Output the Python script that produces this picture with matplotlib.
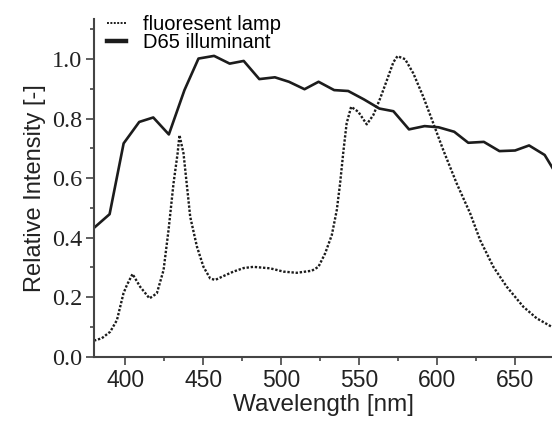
import matplotlib
matplotlib.use("Agg")
import matplotlib.pyplot as plt
from matplotlib.ticker import MultipleLocator, FormatStrFormatter

# D65 illuminant (solid)
d65_nm = [380, 390, 399, 409, 418, 428, 438, 447, 457, 467, 476, 486, 496, 505,
          515, 524, 534, 543, 553, 563, 572, 582, 592, 601, 611, 620, 630, 640,
          650, 659, 669, 678]
d65_val = [0.433, 0.479, 0.717, 0.789, 0.804, 0.747, 0.896, 1.002, 1.011, 0.985,
           0.994, 0.933, 0.939, 0.924, 0.899, 0.924, 0.896, 0.893, 0.865, 0.834,
           0.825, 0.764, 0.775, 0.771, 0.756, 0.719, 0.722, 0.691, 0.693, 0.710,
           0.678, 0.600]

# fluorescent lamp (dotted)
lamp_nm = [380, 385, 390.4, 394.7, 398.9, 401.1, 404.7, 409.6, 415.6, 420.3, 424.6,
           427.8, 431.0, 433.6, 434.8, 437.4, 441.7, 446.0, 450.2, 454.5, 457.7,
           463.0, 469.4, 476.0, 482.2, 493.0, 501.5, 510.0, 519.7, 523.9, 528.2,
           532.5, 535.7, 537.8, 540.0, 542.0, 544.9, 549.5, 554.9, 559.1, 563.5,
           567.8, 572.0, 574.6, 579.5, 584.8, 591.2, 597.6, 604.0, 612.6, 621.2,
           627.6, 636.1, 644.7, 655.3, 663.9, 673.7]
lamp_val = [0.054, 0.062, 0.084, 0.123, 0.213, 0.241, 0.278, 0.235, 0.196, 0.213,
            0.291, 0.426, 0.583, 0.683, 0.745, 0.683, 0.470, 0.370, 0.302, 0.263,
            0.258, 0.271, 0.286, 0.298, 0.302, 0.297, 0.286, 0.282, 0.289, 0.302,
            0.347, 0.409, 0.493, 0.582, 0.694, 0.784, 0.840, 0.823, 0.781, 0.812,
            0.868, 0.929, 0.990, 1.010, 1.000, 0.952, 0.873, 0.784, 0.694, 0.582,
            0.482, 0.392, 0.302, 0.235, 0.168, 0.129, 0.100]

plt.rcParams['font.family'] = ['Liberation Sans', 'DejaVu Sans']
ink = '#1c1c1c'
axcol = '#444444'

fig = plt.figure(figsize=(5.52, 4.21), dpi=100)
ax = fig.add_axes([0.1703, 0.1527, 0.8297, 0.8022])

ax.plot(lamp_nm, lamp_val, color=ink, lw=1.7, linestyle=(0, (1, 0.75)),
        label='fluoresent lamp')
ax.plot(d65_nm, d65_val, color=ink, lw=1.9, label='D65 illuminant')

ax.set_xlim(380, 673.7)
ax.set_ylim(0, 1.135)

ax.xaxis.set_major_locator(MultipleLocator(50))
ax.xaxis.set_minor_locator(MultipleLocator(25))
ax.yaxis.set_major_locator(MultipleLocator(0.2))
ax.yaxis.set_minor_locator(MultipleLocator(0.1))
ax.yaxis.set_major_formatter(FormatStrFormatter('%.1f'))

for s in ['top', 'right']:
    ax.spines[s].set_visible(False)
for s in ['left', 'bottom']:
    ax.spines[s].set_color(axcol)
    ax.spines[s].set_linewidth(1.5)

ax.tick_params(which='major', direction='out', length=5.5, width=1.2, color=axcol)
ax.tick_params(which='minor', direction='out', length=3.2, width=1.2, color=axcol)
ax.tick_params(axis='x', labelsize=16.5, pad=3, labelcolor='#222222')
ax.tick_params(axis='y', labelsize=17.5, pad=3, labelcolor='#222222')
for lab in ax.get_yticklabels():
    lab.set_family('Liberation Serif')

ax.set_xlabel('Wavelength [nm]', fontsize=17.5, color='#222222', labelpad=2)
ax.set_ylabel('Relative Intensity [-]', fontsize=17, color='#222222', labelpad=4)

leg = ax.legend(loc='upper left', bbox_to_anchor=(0.028, 1.013), frameon=False,
                fontsize=14.5, handlelength=0.95, handletextpad=0.85,
                labelspacing=-0.05, borderpad=0, borderaxespad=0)
leg.get_lines()[1].set_linewidth(3.2)
leg.get_lines()[0].set_linewidth(1.4)

fig.savefig('out.png', dpi=100)
